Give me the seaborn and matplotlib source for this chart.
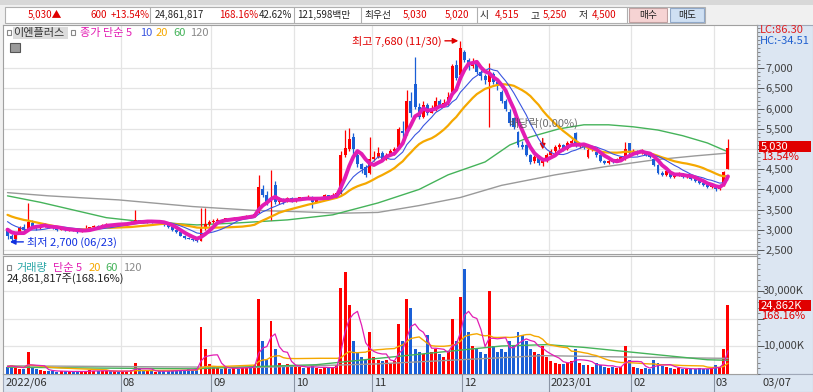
import numpy as np
import pandas as pd
import matplotlib
matplotlib.use("Agg")
import matplotlib.pyplot as plt
from matplotlib.patches import Rectangle
import seaborn as sns

# ---- daily candles 2022-06-22 .. 2023-03-07 ----
opens = [
    3000, 2850, 2780, 2950, 3060, 3020, 3180,  # Jun
    3080, 3050, 3100, 3120, 3060, 3040, 3000, 3020, 2990, 3010, 2980, 2950, 2970, 3000, 3060, 3100, 3080, 3120, 3140, 3110, 3150,  # Jul
    3130, 3150, 3170, 3200, 3230, 3200, 3180, 3220, 3200, 3210, 3180, 3120, 3060, 3000, 2940, 2850, 2800, 2780, 2750, 2730, 3050, 3150,  # Aug
    3200, 3220, 3250, 3230, 3280, 3260, 3300, 3290, 3320, 3350, 3340, 3450, 4000, 3850, 3700, 4100, 3680, 3750, 3700, 3780,  # Sep
    3720, 3750, 3800, 3780, 3820, 3700, 3760, 3800, 3850, 3820, 3860, 3900, 4850, 5000, 5300, 4850, 4620, 4550, 4400,  # Oct
    4750, 4800, 4900, 4750, 4850, 4950, 5050, 5450, 5400, 6200, 6600, 6050, 5800, 6100, 5900, 6000, 6200, 6100, 6150, 6400, 7080, 6830,  # Nov
    7400, 7200, 7050, 7100, 6900, 6800, 6650, 6850, 6650, 6410, 6200, 5920, 5770, 5420, 5100, 5100, 4850, 4700, 4800, 4650, 4700,  # Dec
    4850, 4950, 5050, 5100, 5000, 5150, 5400, 5080, 5100, 4800, 4980, 4930, 4850, 4700, 4650, 4700, 4680, 4750, 4750, 5150,  # Jan
    4900, 4950, 4900, 4950, 4850, 4750, 4600, 4400, 4350, 4450, 4300, 4350, 4400, 4300, 4350, 4250, 4200, 4150, 4100, 4050,  # Feb
    4100, 4000, 4100, 4515,  # Mar
]
highs = [
    3050, 2900, 2950, 3100, 3150, 3660, 3250,
    3120, 3150, 3170, 3130, 3090, 3060, 3050, 3030, 3040, 3020, 2990, 3000, 3130, 3080, 3120, 3110, 3140, 3160, 3150, 3170, 3160,
    3170, 3190, 3220, 3500, 3250, 3210, 3240, 3230, 3230, 3220, 3190, 3130, 3070, 3010, 2950, 2870, 2820, 2790, 2760, 3540, 3540, 3250,
    3260, 3280, 3270, 3300, 3290, 3320, 3310, 3350, 3370, 3360, 3420, 4360, 4100, 3950, 4480, 4200, 3800, 3780, 3820, 3800,
    3780, 3820, 3810, 3850, 3830, 3780, 3820, 3880, 3860, 3900, 3950, 4950, 5470, 5520, 5400, 4900, 4650, 4600, 5300,
    4950, 5050, 4950, 4900, 5000, 5050, 5550, 5700, 6450, 6400, 7290, 6150, 6200, 6150, 6100, 6300, 6250, 6250, 6400, 7100, 7200, 7680,
    7450, 7250, 7250, 7150, 6950, 6850, 7130, 6900, 6700, 6450, 6250, 5980, 5800, 5450, 5200, 5120, 4880, 4850, 4850, 4750, 4900,
    5000, 5100, 5150, 5120, 5200, 5250, 5420, 5150, 5120, 5050, 5050, 4950, 4870, 4720, 4750, 4730, 4780, 4820, 5180, 5160,
    5000, 4980, 5000, 4960, 4880, 4780, 4620, 4450, 4480, 4460, 4380, 4420, 4410, 4380, 4360, 4280, 4220, 4180, 4110, 4150,
    4120, 4080, 4450, 5250,
]
lows = [
    2780, 2700, 2760, 2920, 2980, 3000, 3050,
    3000, 3030, 3080, 3040, 3020, 2980, 2990, 2970, 2980, 2960, 2930, 2940, 2960, 2990, 3040, 3060, 3070, 3100, 3090, 3100, 3110,
    3120, 3130, 3150, 3180, 3180, 3160, 3170, 3180, 3190, 3160, 3100, 3040, 2980, 2920, 2840, 2780, 2760, 2730, 2700, 2720, 3000, 3100,
    3180, 3200, 3200, 3220, 3230, 3250, 3260, 3280, 3300, 3310, 3330, 3420, 3800, 3620, 3250, 3650, 3640, 3650, 3690, 3700,
    3700, 3730, 3750, 3770, 3540, 3690, 3750, 3790, 3800, 3810, 3850, 3880, 4800, 4950, 4850, 4560, 4400, 4300, 4380,
    4700, 4780, 4700, 4720, 4820, 4850, 5000, 5300, 5350, 5800, 6000, 5750, 5780, 5850, 5880, 5950, 6050, 6080, 6100, 6350, 6700, 6800,
    7150, 6950, 7000, 6850, 6700, 6600, 5540, 6600, 6450, 6150, 5950, 5580, 5500, 5050, 5000, 4820, 4620, 4650, 4600, 4580, 4680,
    4820, 4900, 5000, 4950, 4980, 5100, 5050, 5030, 5000, 4780, 4950, 4800, 4680, 4620, 4640, 4650, 4670, 4730, 4730, 4850,
    4880, 4850, 4880, 4820, 4780, 4580, 4380, 4320, 4340, 4280, 4290, 4340, 4280, 4290, 4230, 4180, 4130, 4080, 4030, 4040,
    3950, 3980, 4080, 4500,
]
closes = [
    2850, 2760, 2930, 3050, 3000, 3200, 3080,
    3050, 3100, 3120, 3060, 3040, 3000, 3020, 2990, 3010, 2980, 2950, 2970, 3000, 3060, 3100, 3080, 3120, 3140, 3110, 3150, 3130,
    3150, 3170, 3200, 3230, 3200, 3180, 3220, 3200, 3210, 3180, 3120, 3060, 3000, 2940, 2850, 2800, 2780, 2750, 2720, 3050, 3150, 3200,
    3220, 3250, 3230, 3280, 3260, 3300, 3290, 3320, 3350, 3340, 3400, 4070, 3850, 3700, 3780, 3680, 3750, 3700, 3780, 3720,
    3750, 3800, 3780, 3820, 3700, 3760, 3800, 3850, 3820, 3860, 3900, 4850, 5030, 5250, 5000, 4620, 4500, 4350, 4750,
    4800, 4900, 4750, 4850, 4950, 5000, 5500, 5400, 6200, 5900, 6050, 5800, 6100, 5900, 6000, 6200, 6100, 6150, 6300, 7050, 6760, 7500,
    7200, 7050, 7150, 6900, 6800, 6700, 6850, 6650, 6550, 6200, 6000, 5650, 5550, 5100, 5050, 4850, 4680, 4800, 4650, 4700, 4850,
    4950, 5050, 5100, 5000, 5150, 5200, 5080, 5100, 5050, 4980, 5000, 4850, 4700, 4650, 4700, 4680, 4750, 4800, 5000, 4900,
    4950, 4900, 4950, 4850, 4800, 4600, 4400, 4350, 4450, 4300, 4350, 4400, 4300, 4350, 4250, 4200, 4150, 4100, 4050, 4100,
    4000, 4050, 4430, 5030,
]
# closes of the 19 sessions before the window, implied by where MA5/10/20 start at the left edge
warmup_closes = [3600, 3580, 3560, 3540, 3520, 3540, 3520, 3500, 3520, 3500,
                 3450, 3420, 3400, 3380, 3350, 3100, 3050, 3020, 3000]
# daily volume, thousand shares
volumes = [
    2500, 3000, 2000, 1800, 1500, 7800, 2500,
    1500, 1200, 1000, 900, 800, 700, 900, 800, 700, 600, 800, 700, 900, 1200, 1000, 900, 800, 1000, 900, 800, 700,
    800, 900, 1200, 4000, 1500, 1000, 900, 800, 700, 800, 900, 1000, 1200, 1100, 1300, 1200, 1500, 1300, 1600, 17000, 9000, 3500,
    2500, 2000, 1800, 2200, 1600, 2000, 1800, 2500, 2300, 2000, 3000, 27000, 12000, 5000, 19000, 9000, 4000, 3000, 3500, 2500,
    2200, 2500, 2000, 2300, 3000, 2000, 1800, 2200, 2000, 2500, 3000, 31000, 37000, 25000, 12000, 8000, 6000, 5000, 15000,
    6000, 5000, 4500, 5000, 4000, 4500, 18000, 12000, 27000, 24000, 9000, 8000, 7000, 14000, 8000, 9000, 7000, 6000, 8000, 20000, 12000, 28000,
    38000, 15000, 10000, 9000, 8000, 7000, 30000, 10000, 8000, 9000, 8000, 12000, 10000, 15000, 14000, 12000, 9000, 8000, 7000, 10000, 6000,
    4500, 4000, 3500, 3500, 4000, 4500, 9000, 4000, 3000, 3000, 2500, 4000, 3000, 2500, 2000, 2500, 2000, 2500, 10000, 5000,
    2500, 2000, 1800, 2000, 1600, 5000, 4000, 2800, 2400, 2000, 1800, 2000, 1600, 1800, 1600, 1500, 2000, 1600, 1800, 2000,
    3000, 2500, 9000, 24862,
]

# long moving averages (they need history before the window)
ma60_idx = [0, 8, 16, 24, 32, 40, 46, 56, 68, 79, 90, 100, 107, 116, 122, 127, 134, 140, 146, 152, 158, 164, 170, 175]
ma60_val = [3840, 3680, 3490, 3300, 3210, 3160, 3120, 3170, 3245, 3370, 3665, 4000, 4360, 4680, 5100, 5300, 5500, 5600, 5600, 5550, 5470, 5330, 5150, 4930]
ma120_idx = [0, 10, 20, 27, 45, 60, 70, 81, 90, 100, 110, 120, 133, 145, 157, 167, 175]
ma120_val = [3920, 3840, 3780, 3740, 3575, 3480, 3450, 3410, 3430, 3600, 3800, 4100, 4360, 4560, 4730, 4830, 4900]
vol60_idx = [0, 20, 45, 60, 75, 90, 100, 110, 120, 131, 140, 150, 160, 170, 175]
vol60_val = [2300, 2000, 1700, 2500, 3200, 5500, 7000, 8500, 10000, 10500, 9500, 8000, 6500, 5000, 4800]
vol120_idx = [0, 30, 60, 90, 110, 130, 150, 175]
vol120_val = [2800, 2500, 2200, 3500, 5000, 6500, 6000, 5500]

month_labels = ["2022/06", "08", "09", "10", "11", "12", "2023/01", "02", "03"]
month_first = [0, 28, 50, 70, 89, 111, 132, 152, 172]
vol_ticks = [10000, 30000]

# ---- frame ----
df = pd.DataFrame({"o": opens, "h": highs, "l": lows, "c": closes, "v": volumes})
df["i"] = np.arange(len(df))
full_close = pd.Series(warmup_closes + closes)
nw = len(warmup_closes)
for n in (5, 10, 20):
    df[f"ma{n}"] = full_close.rolling(n, min_periods=1).mean().iloc[nw:].to_numpy()
for n in (5, 20):
    df[f"vma{n}"] = df["v"].rolling(n, min_periods=1).mean()
up = df["c"] >= df["o"]

RED, BLUE = "#ff0000", "#1a5fd6"
C5, C10, C20, C60, C120 = "#e21db3", "#3a55e0", "#f5a800", "#45b35a", "#9a9a9a"

sns.set_style("white")
plt.rcParams["font.family"] = ["Noto Sans CJK KR", "DejaVu Sans"]
plt.rcParams["font.size"] = 8

W, H = 813, 392
fig = plt.figure(figsize=(W / 100, H / 100), dpi=100)
fig.patch.set_facecolor("#f0f0f0")


def add_ax(x0, y0, x1, y1, **kw):
    return fig.add_axes([x0 / W, 1 - y1 / H, (x1 - x0) / W, (y1 - y0) / H], **kw)


def ftext(x, y, s, **kw):
    fig.text(x / W, 1 - y / H, s, va="center", **kw)


def fbox(x0, y0, x1, y1, fc, ec="none"):
    fig.patches.append(Rectangle((x0 / W, 1 - y1 / H), (x1 - x0) / W, (y1 - y0) / H,
                                 transform=fig.transFigure, fc=fc, ec=ec, lw=0.8))


# header row
fbox(0, 0, W, 5, "#d8d8d8")
fbox(5, 7, 705, 23, "white", "#b0b0b0")
for sx in (150, 294, 361, 477, 627):
    fig.add_artist(plt.Line2D([sx / W] * 2, [1 - 7 / H, 1 - 23 / H], color="#b0b0b0", lw=0.8))
fbox(629, 8, 667, 22, "#f6d3d3", "#c0a0a0")
fbox(670, 8, 704, 22, "#cfe0f3", "#90a8c8")
hr = "#e00000"
hs = 7.0
for x, s, col in [(28, "5,030▲", hr), (90, "600", hr), (111, "+13.54%", hr),
                  (155, "24,861,817", "#222"), (219, "168.16%", hr), (259, "42.62%", "#222"),
                  (297, "121,598백만", "#222"), (364, "최우선", "#222"), (403, "5,030", hr),
                  (445, "5,020", hr), (480, "시", "#222"), (495, "4,515", hr), (530, "고", "#222"),
                  (543, "5,250", hr), (579, "저", "#222"), (592, "4,500", hr)]:
    ftext(x, 15, s, color=col, ha="left", fontsize=hs)
ftext(648, 15, "매수", color="#222", ha="center", fontsize=hs)
ftext(687, 15, "매도", color="#222", ha="center", fontsize=hs)

# side panel + date strip backgrounds
side = add_ax(757, 25, W, 374)
side.set_facecolor("#dce6f2")
side.set_xticks([]); side.set_yticks([])
for s in side.spines.values():
    s.set_color("#a0a8b8")
strip = add_ax(3, 374, W, 392)
strip.set_facecolor("#dce6f2")
strip.set_xticks([]); strip.set_yticks([])
for s in strip.spines.values():
    s.set_color("#a0a8b8")

# x mapping: index 0 at 7.5 px, 4.117 px per session, axes from 3 to 757 px
PX = 4.117
x_lo = -(7.5 - 3) / PX
x_hi = x_lo + (757 - 3) / PX
bounds = [m - 0.5 for m in month_first[1:]]

# ---- price panel ----
ax = add_ax(3, 25, 757, 254)
ax.set_facecolor("white")
ax.set_xlim(x_lo, x_hi)
ax.set_ylim(7000 - (254 - 68.3) / 0.0404, 7000 + (68.3 - 25) / 0.0404)
ax.set_yticks(range(2500, 7001, 500))
ax.set_yticks(range(2400, 8001, 100), minor=True)
ax.yaxis.tick_right()
# the 5,000 label sits under the current-price box
ax.yaxis.set_major_formatter(matplotlib.ticker.FuncFormatter(
    lambda v, p: "" if int(v) == 5000 else f"{int(v):,}"))
ax.tick_params(axis="y", which="major", direction="out", length=5, width=0.6, pad=1,
               labelsize=8, colors="#404040")
ax.tick_params(axis="y", which="minor", direction="out", length=2, width=0.5, colors="#606060")
ax.set_xticks([])
ax.grid(axis="y", color="#e4e4e4", lw=0.9)
for b in bounds:
    ax.axvline(b, color="#e4e4e4", lw=0.9, zorder=0)
for s in ax.spines.values():
    s.set_color("#a0a0a0"); s.set_linewidth(0.8)

sns.lineplot(x=ma120_idx, y=ma120_val, ax=ax, color=C120, lw=1.0, legend=False)
sns.lineplot(x=ma60_idx, y=ma60_val, ax=ax, color=C60, lw=1.0, legend=False)

ax.vlines(df["i"], df["l"], df["h"], colors=np.where(up, RED, BLUE), lw=0.9, zorder=3)
body_lo = np.minimum(df["o"], df["c"])
body_h = np.maximum(np.abs(df["c"] - df["o"]), 12)
ax.bar(df["i"], body_h, bottom=body_lo, width=0.72, color=np.where(up, RED, BLUE), zorder=3, lw=0)

sns.lineplot(data=df, x="i", y="ma20", ax=ax, color=C20, lw=1.6, legend=False, zorder=4)
sns.lineplot(data=df, x="i", y="ma10", ax=ax, color=C10, lw=0.8, legend=False, zorder=4)
sns.lineplot(data=df, x="i", y="ma5", ax=ax, color=C5, lw=2.8, legend=False, zorder=5)
ax.set_xlabel(""); ax.set_ylabel("")

ax.annotate("최고 7,680 (11/30)", xy=(109.5, 7680), xytext=(-12, 0), textcoords="offset points",
            ha="right", va="center", color="#e00000", fontsize=8,
            arrowprops=dict(arrowstyle="-|>", color="#e00000", lw=1, shrinkA=0, shrinkB=0))
ax.annotate("최저 2,700 (06/23)", xy=(0.6, 2700), xytext=(12, 0), textcoords="offset points",
            ha="left", va="center", color="#1030e0", fontsize=8,
            arrowprops=dict(arrowstyle="-|>", color="#1030e0", lw=1, shrinkA=0, shrinkB=0))
ax.text(130, 5640, "배당락(0.00%)", ha="center", va="center", color="#555", fontsize=8, alpha=0.85, zorder=6)
ax.annotate("", xy=(130, 4990), xytext=(130, 5260),
            arrowprops=dict(arrowstyle="-|>", color="#e00000", lw=1, shrinkA=0, shrinkB=0))

# legend row of the price panel
fbox(7, 30, 11, 35, "white", "#888")
fbox(13, 27, 68, 39, "#dcdcdc")
ftext(39, 33, "이엔플러스", color="#333", ha="center")
fbox(71, 30, 75, 35, "white", "#888")
ftext(80, 33, "종가 단순 5", color=C5, ha="left")
ftext(140, 33, "10", color=C10, ha="left")
ftext(156, 33, "20", color=C20, ha="left")
ftext(173, 33, "60", color=C60, ha="left")
ftext(190, 33, "120", color="#8a8a8a", ha="left")
fbox(10, 43, 20, 52, "#9a9a9a", "#555")

ftext(760, 30, "LC:86.30", color="#e02020", ha="left")
ftext(760, 41, "HC:-34.51", color="#2060d0", ha="left")
fbox(759, 141, 811, 152, "#e00000")
ftext(761, 146.5, "5,030", color="white", ha="left")
ftext(761, 157, "13.54%", color="#e00000", ha="left")

# ---- volume panel ----
VY0, VY1 = 256, 373.5
vx = add_ax(3, VY0, 757, VY1)
vx.set_facecolor("white")
vx.set_xlim(x_lo, x_hi)
vtop = (VY1 - VY0) / 0.00275
vx.set_ylim(0, vtop)
vx.set_yticks([10000, 20000, 30000])
vx.set_yticks(range(0, 42001, 2000), minor=True)
vx.yaxis.tick_right()
vx.set_yticklabels([])
vx.tick_params(axis="y", which="major", direction="out", length=5, width=0.6, colors="#404040")
vx.tick_params(axis="y", which="minor", direction="out", length=2, width=0.5, colors="#606060")
vx.set_xticks([])
vx.grid(axis="y", color="#e4e4e4", lw=0.9)
for b in bounds:
    vx.axvline(b, color="#e4e4e4", lw=0.9, zorder=0)
for s in vx.spines.values():
    s.set_color("#a0a0a0"); s.set_linewidth(0.8)

vx.bar(df["i"], df["v"], width=0.72, color=np.where(up, RED, BLUE), lw=0, zorder=3)
sns.lineplot(x=vol120_idx, y=vol120_val, ax=vx, color=C120, lw=1.0, legend=False, zorder=4)
sns.lineplot(x=vol60_idx, y=vol60_val, ax=vx, color=C60, lw=1.0, legend=False, zorder=4)
sns.lineplot(data=df, x="i", y="vma20", ax=vx, color=C20, lw=1.0, legend=False, zorder=4)
sns.lineplot(data=df, x="i", y="vma5", ax=vx, color=C5, lw=0.9, legend=False, zorder=5)
vx.set_xlabel(""); vx.set_ylabel("")
vx.set_ylim(0, vtop)
for t in vol_ticks:
    ftext(763, VY1 - t * 0.00275, f"{t:,}K", color="#404040", ha="left")

fbox(7, 265, 11, 270, "white", "#888")
ftext(16, 268, "거래량", color="#2aa6a6", ha="left")
ftext(53, 268, "단순 5", color=C5, ha="left")
ftext(89, 268, "20", color=C20, ha="left")
ftext(105, 268, "60", color=C60, ha="left")
ftext(123, 268, "120", color="#8a8a8a", ha="left")
ftext(7, 279, "24,861,817주(168.16%)", color="#222", ha="left")

fbox(759, 300, 811, 311, "#e00000")
ftext(761, 305.5, "24,862K", color="white", ha="left")
ftext(761, 316, "168.16%", color="#e00000", ha="left")

# ---- date strip ----
xpix = lambda i: 3 + (i - x_lo) * PX
ftext(6, 383, month_labels[0], color="#333", ha="left")
for lab, m in zip(month_labels[1:], month_first[1:]):
    xb = xpix(m - 0.5)
    fig.add_artist(plt.Line2D([xb / W] * 2, [1 - 374 / H, 1 - 392 / H], color="#8a94a4", lw=0.8))
    ftext(xb + 2, 383, lab, color="#333", ha="left")
ftext(762, 383, "03/07", color="#333", ha="left")

fig.savefig("out.png", dpi=100, facecolor=fig.get_facecolor())
